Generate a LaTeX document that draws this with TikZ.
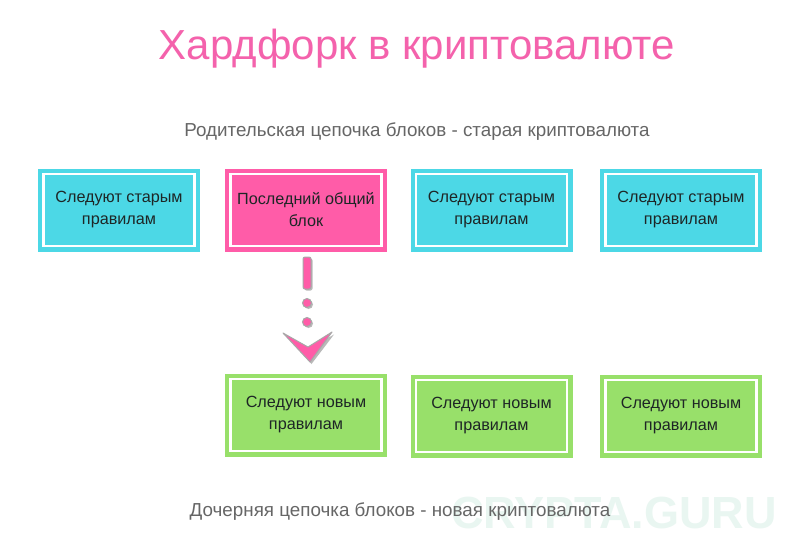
\documentclass[tikz,border=0pt]{standalone}
\usepackage{fontspec}
\setmainfont{Liberation Sans}
\definecolor{cyanbox}{HTML}{4CD8E6}
\definecolor{pinkbox}{HTML}{FF5CA8}
\definecolor{greenbox}{HTML}{98E06A}
\definecolor{titlepink}{HTML}{F462AC}
\definecolor{greytext}{HTML}{666666}
\definecolor{boxtext}{HTML}{1E2626}
\definecolor{wmark}{HTML}{E9F6F1}
\definecolor{arrowgrey}{HTML}{A8A8A8}
\tikzset{
  blockbox/.style={minimum width=162pt, minimum height=83pt, inner sep=0pt,
    text=boxtext, align=center,
    font=\fontsize{16.2}{22}\selectfont,
    path picture={\draw[white,line width=2.2pt]
      ([shift={(5.5pt,-5.5pt)}]path picture bounding box.north west) rectangle
      ([shift={(-5.5pt,5.5pt)}]path picture bounding box.south east);}},
  oldbox/.style={blockbox, fill=cyanbox},
  forkbox/.style={blockbox, fill=pinkbox},
  newbox/.style={blockbox, fill=greenbox},
  caption/.style={text=greytext, font=\fontsize{18.8}{22}\selectfont},
  arrowpart/.style={fill=pinkbox, draw=arrowgrey, line width=1pt},
  arrowshadow/.style={fill=arrowgrey!80},
}
\begin{document}
\begin{tikzpicture}[x=1pt,y=-1pt]
\useasboundingbox[fill=white] (0,0) rectangle (799,554);
\node[text=wmark, font=\fontsize{45}{45}\selectfont\bfseries] (wm) at (614,513) {CRYPTA.GURU};
\node[text=titlepink, font=\fontsize{42}{46}\selectfont] (title) at (417,49) {Хардфорк в криптовалюте};
\node[caption] (parent) at (417,132) {Родительская цепочка блоков - старая криптовалюта};
\node[caption] (child) at (400,512) {Дочерняя цепочка блоков - новая криптовалюта};

\node[oldbox] (o1) at (119,210) {Следуют старым\\правилам};
\node[forkbox] (f) at (306,210) {Последний общий\\блок};
\node[oldbox] (o3) at (491.5,210) {Следуют старым\\правилам};
\node[oldbox] (o4) at (681,210) {Следуют старым\\правилам};

\node[newbox] (n2) at (306,415) {Следуют новым\\правилам};
\node[newbox] (n3) at (491.5,416) {Следуют новым\\правилам};
\node[newbox] (n4) at (681,416) {Следуют новым\\правилам};

% decorative arrow
\fill[arrowshadow, rounded corners=2pt] (304.5,258.5) rectangle (312.5,290.5);
\draw[arrowpart, rounded corners=2pt] (303,257) rectangle (311,289);
\fill[arrowshadow] (308.5,304.5) circle (4.5);
\draw[arrowpart] (307,303) circle (4.5);
\fill[arrowshadow] (308.5,323.5) circle (4.5);
\draw[arrowpart] (307,322) circle (4.5);
\fill[arrowshadow] (285,334.5) -- (309.5,348.5) -- (334,334.5) -- (311.5,364) -- cycle;
\draw[arrowpart, line join=round] (283,333) -- (308,347) -- (332,332) -- (310,362) -- cycle;
\end{tikzpicture}
\end{document}
